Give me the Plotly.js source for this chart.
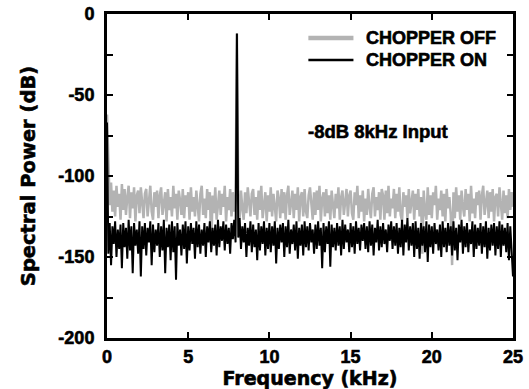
<!DOCTYPE html>
<html>
<head>
<meta charset="utf-8">
<script src="https://cdn.plot.ly/plotly-3.0.1.min.js"></script>
<style>
  html, body { margin: 0; padding: 0; background: #fff; }
  #chart { width: 529px; height: 389px; }
  #chart svg text, #chart svg tspan { font-weight: 700 !important; stroke: #000 !important; stroke-width: 0.6px !important; }
</style>
</head>
<body>
<div id="chart"></div>
<script>
// Frequency grid (kHz): 12 samples per kHz from 0 to 25
const freqStartKHz = 0;
const samplesPerKHz = 12;

// CHOPPER OFF spectrum (dB), one row per kHz
const chopperOff = [
  -62, -98, -118, -104, -122, -109, -125, -106, -119, -111, -127, -105,
  -121, -108, -124, -113, -106, -126, -110, -120, -107, -128, -112, -109,
  -123, -107, -118, -126, -111, -108, -125, -114, -106, -122, -127, -110,
  -119, -109, -126, -112, -107, -124, -117, -110, -128, -108, -121, -113,
  -125, -106, -120, -111, -127, -109, -115, -124, -108, -126, -112, -119,
  -110, -127, -107, -122, -113, -125, -109, -118, -128, -111, -106, -124,
  -114, -126, -108, -121, -110, -145, -112, -123, -107, -127, -116, -109,
  -124, -111, -119, -106, -128, -113, -121, -108, -125, -110, -122, -115,
  -12, -112, -126, -109, -120, -127, -110, -123, -107, -118, -125, -111,
  -108, -124, -113, -127, -109, -121, -106, -126, -115, -110, -128, -112,
  -122, -107, -125, -111, -119, -128, -109, -114, -126, -108, -123, -110,
  -127, -112, -106, -124, -117, -109, -126, -111, -121, -107, -128, -113,
  -110, -125, -108, -122, -126, -112, -107, -119, -127, -110, -124, -109,
  -121, -106, -128, -114, -110, -125, -108, -123, -112, -127, -109, -118,
  -126, -111, -120, -107, -127, -113, -109, -124, -115, -108, -125, -112,
  -109, -123, -127, -110, -118, -106, -126, -112, -122, -109, -128, -114,
  -124, -108, -119, -126, -111, -107, -125, -113, -121, -110, -127, -108,
  -112, -127, -109, -123, -106, -125, -114, -120, -108, -126, -111, -122,
  -107, -124, -128, -110, -119, -112, -126, -108, -123, -115, -109, -127,
  -111, -121, -108, -125, -113, -148, -109, -122, -127, -107, -124, -112,
  -126, -110, -118, -106, -127, -114, -121, -109, -125, -111, -128, -108,
  -120, -113, -124, -155, -110, -126, -107, -122, -112, -127, -109, -119,
  -125, -108, -121, -111, -128, -106, -123, -114, -126, -110, -118, -109,
  -127, -112, -106, -124, -115, -109, -126, -110, -122, -108, -128, -113,
  -111, -125, -107, -120, -127, -109, -123, -112, -126, -108, -121, -110,
  -119
];

// CHOPPER ON spectrum (dB), one row per kHz
const chopperOn = [
  -67, -148, -129, -155, -131, -142, -128, -150, -133, -145, -130, -157,
  -129, -144, -132, -151, -127, -146, -131, -160, -129, -143, -133, -148,
  -128, -162, -131, -145, -129, -149, -132, -141, -128, -155, -130, -147,
  -133, -143, -129, -150, -131, -146, -127, -160, -132, -144, -130, -152,
  -128, -147, -131, -164, -129, -143, -133, -149, -130, -145, -128, -154,
  -131, -146, -129, -142, -132, -151, -128, -144, -130, -148, -133, -143,
  -129, -150, -131, -141, -128, -147, -132, -143, -130, -149, -127, -144,
  -131, -140, -128, -146, -130, -142, -132, -148, -129, -139, -127, -141,
  -12, -138, -126, -145, -131, -141, -129, -150, -132, -143, -128, -147,
  -130, -144, -133, -152, -129, -146, -131, -142, -128, -149, -132, -145,
  -129, -147, -131, -143, -128, -154, -132, -145, -130, -141, -129, -150,
  -131, -144, -127, -148, -133, -142, -130, -146, -128, -151, -132, -143,
  -130, -149, -128, -144, -131, -146, -129, -141, -133, -148, -130, -145,
  -128, -143, -132, -157, -129, -147, -131, -142, -128, -156, -130, -144,
  -132, -146, -129, -143, -131, -149, -127, -145, -130, -141, -133, -147,
  -129, -144, -131, -148, -128, -142, -132, -146, -130, -140, -129, -145,
  -131, -147, -128, -143, -130, -149, -132, -141, -127, -146, -131, -144,
  -129, -142, -133, -147, -130, -140, -128, -145, -131, -143, -129, -148,
  -132, -144, -127, -149, -130, -141, -126, -146, -131, -143, -129, -150,
  -128, -145, -132, -151, -129, -143, -131, -147, -128, -153, -130, -144,
  -131, -148, -129, -142, -133, -146, -130, -150, -128, -144, -132, -147,
  -129, -143, -131, -149, -128, -146, -132, -152, -130, -141, -127, -148,
  -131, -144, -129, -147, -133, -142, -128, -150, -130, -145, -132, -143,
  -129, -148, -131, -144, -128, -151, -132, -146, -130, -143, -129, -149,
  -131, -145, -128, -150, -130, -143, -132, -147, -129, -152, -131, -146,
  -162
];

const seriesNames = ['CHOPPER OFF', 'CHOPPER ON'];
const xTickVals = [0, 5, 10, 15, 20, 25];
const xTickText = ['0', '5', '10', '15', '20', '25'];
const yTickVals = [0, -50, -100, -150, -200];
const yTickText = ['0', '-50', '-100', '-150', '-200'];
const noteText = '-8dB 8kHz Input';

const freq = chopperOff.map((_, i) => freqStartKHz + i / samplesPerKHz);

const GRAY = '#b3b3b3';
const FONT = 'Liberation Sans, Arial, Helvetica, sans-serif';
const TITLEFONT = 'DejaVu Sans, Liberation Sans, Arial, sans-serif';

const traces = [
  { x: freq, y: chopperOff, type: 'scatter', mode: 'lines', name: seriesNames[0],
    line: { color: GRAY, width: 2.5 }, showlegend: false, hoverinfo: 'skip' },
  { x: freq, y: chopperOn, type: 'scatter', mode: 'lines', name: seriesNames[1],
    line: { color: '#000000', width: 2 }, showlegend: false, hoverinfo: 'skip' }
];

const axisCommon = {
  showline: true, linewidth: 3, linecolor: '#000', mirror: 'ticks',
  ticks: 'inside', ticklen: 6, tickwidth: 2, tickcolor: '#000',
  showgrid: false, zeroline: false, fixedrange: true
};

const layout = {
  width: 529, height: 389,
  margin: { l: 107, r: 16, t: 14, b: 51, pad: 0 },
  paper_bgcolor: '#fff', plot_bgcolor: '#fff',
  font: { family: FONT, size: 18, color: '#000', weight: 'bold' },
  showlegend: false,
  xaxis: Object.assign({}, axisCommon, {
    range: [0, 25], tickmode: 'array', tickvals: xTickVals, ticktext: xTickText,
    ticklabelstandoff: 0,
    tickfont: { family: FONT, size: 18, weight: 'bold' },
    title: { text: '<b>Frequency (kHz)</b>', standoff: 1,
      font: { family: TITLEFONT, size: 19, weight: 'bold' } }
  }),
  yaxis: Object.assign({}, axisCommon, {
    range: [-200, 0], tickmode: 'array', tickvals: yTickVals, ticktext: yTickText,
    ticklabelstandoff: 6,
    minor: { dtick: 25, tick0: 0, ticks: 'inside', ticklen: 6, tickwidth: 2, tickcolor: '#000', showgrid: false },
    tickfont: { family: FONT, size: 18, weight: 'bold' },
    title: { text: '<b>Spectral Power (dB)</b>', standoff: 18,
      font: { family: TITLEFONT, size: 19.5, weight: 'bold' } }
  }),
  shapes: [
    { type: 'line', xref: 'paper', yref: 'paper', x0: 0.496, x1: 0.607, y0: 0.926, y1: 0.926,
      line: { color: GRAY, width: 4.5 } },
    { type: 'line', xref: 'paper', yref: 'paper', x0: 0.496, x1: 0.607, y0: 0.858, y1: 0.858,
      line: { color: '#000', width: 2.5 } }
  ],
  annotations: [
    { xref: 'paper', yref: 'paper', x: 0.632, y: 0.926, xanchor: 'left', yanchor: 'middle',
      text: seriesNames[0], showarrow: false, font: { family: FONT, size: 18, weight: 'bold' } },
    { xref: 'paper', yref: 'paper', x: 0.632, y: 0.858, xanchor: 'left', yanchor: 'middle',
      text: seriesNames[1], showarrow: false, font: { family: FONT, size: 18, weight: 'bold' } },
    { xref: 'paper', yref: 'paper', x: 0.489, y: 0.636, xanchor: 'left', yanchor: 'middle',
      text: noteText, showarrow: false, font: { family: FONT, size: 18.5, weight: 'bold' } }
  ]
};

Plotly.newPlot('chart', traces, layout, { displayModeBar: false, staticPlot: true });
</script>
</body>
</html>
